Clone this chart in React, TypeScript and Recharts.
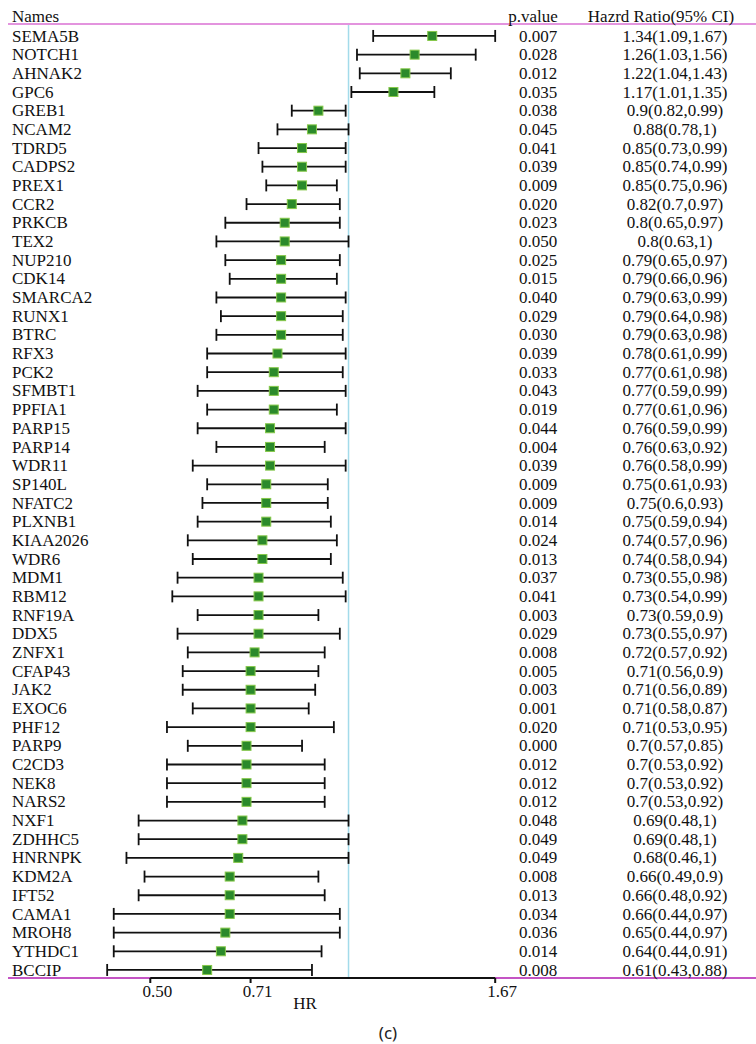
import React from "react";
import { ScatterChart, Scatter, XAxis, YAxis, ErrorBar, ReferenceLine } from "recharts";

const geneNames = [
  "SEMA5B", "NOTCH1", "AHNAK2", "GPC6", "GREB1", "NCAM2", "TDRD5", "CADPS2", "PREX1", "CCR2",
  "PRKCB", "TEX2", "NUP210", "CDK14", "SMARCA2", "RUNX1", "BTRC", "RFX3", "PCK2", "SFMBT1",
  "PPFIA1", "PARP15", "PARP14", "WDR11", "SP140L", "NFATC2", "PLXNB1", "KIAA2026", "WDR6", "MDM1",
  "RBM12", "RNF19A", "DDX5", "ZNFX1", "CFAP43", "JAK2", "EXOC6", "PHF12", "PARP9", "C2CD3",
  "NEK8", "NARS2", "NXF1", "ZDHHC5", "HNRNPK", "KDM2A", "IFT52", "CAMA1", "MROH8", "YTHDC1",
  "BCCIP",
];

const pValues = [
  "0.007", "0.028", "0.012", "0.035", "0.038", "0.045", "0.041", "0.039", "0.009", "0.020",
  "0.023", "0.050", "0.025", "0.015", "0.040", "0.029", "0.030", "0.039", "0.033", "0.043",
  "0.019", "0.044", "0.004", "0.039", "0.009", "0.009", "0.014", "0.024", "0.013", "0.037",
  "0.041", "0.003", "0.029", "0.008", "0.005", "0.003", "0.001", "0.020", "0.000", "0.012",
  "0.012", "0.012", "0.048", "0.049", "0.049", "0.008", "0.013", "0.034", "0.036", "0.014",
  "0.008",
];

const hazardRatios = [
  1.34, 1.26, 1.22, 1.17, 0.9, 0.88, 0.85, 0.85, 0.85, 0.82,
  0.8, 0.8, 0.79, 0.79, 0.79, 0.79, 0.79, 0.78, 0.77, 0.77,
  0.77, 0.76, 0.76, 0.76, 0.75, 0.75, 0.75, 0.74, 0.74, 0.73,
  0.73, 0.73, 0.73, 0.72, 0.71, 0.71, 0.71, 0.71, 0.7, 0.7,
  0.7, 0.7, 0.69, 0.69, 0.68, 0.66, 0.66, 0.66, 0.65, 0.64,
  0.61,
];

const lowerCI = [
  1.09, 1.03, 1.04, 1.01, 0.82, 0.78, 0.73, 0.74, 0.75, 0.7,
  0.65, 0.63, 0.65, 0.66, 0.63, 0.64, 0.63, 0.61, 0.61, 0.59,
  0.61, 0.59, 0.63, 0.58, 0.61, 0.6, 0.59, 0.57, 0.58, 0.55,
  0.54, 0.59, 0.55, 0.57, 0.56, 0.56, 0.58, 0.53, 0.57, 0.53,
  0.53, 0.53, 0.48, 0.48, 0.46, 0.49, 0.48, 0.44, 0.44, 0.44,
  0.43,
];

const upperCI = [
  1.67, 1.56, 1.43, 1.35, 0.99, 1, 0.99, 0.99, 0.96, 0.97,
  0.97, 1, 0.97, 0.96, 0.99, 0.98, 0.98, 0.99, 0.98, 0.99,
  0.96, 0.99, 0.92, 0.99, 0.93, 0.93, 0.94, 0.96, 0.94, 0.98,
  0.99, 0.9, 0.97, 0.92, 0.9, 0.89, 0.87, 0.95, 0.85, 0.92,
  0.92, 0.92, 1, 1, 1, 0.9, 0.92, 0.97, 0.97, 0.91,
  0.88,
];

const xTicks = [0.5, 0.71, 1.67];
const headerNames = "Names";
const headerP = "p.value";
const headerHR = "Hazrd Ratio(95% CI)";
const xLabel = "HR";
const panelLabel = "(c)";

const rows = geneNames.map((name, i) => ({
  idx: i,
  name,
  p: pValues[i],
  hr: hazardRatios[i],
  err: [hazardRatios[i] - lowerCI[i], upperCI[i] - hazardRatios[i]],
  text: `${hazardRatios[i]}(${lowerCI[i]},${upperCI[i]})`,
}));

const FONT = "'Liberation Serif', 'Times New Roman', serif";
const FS = 17;
const X_DOMAIN: [number, number] = [0.304, 4.157];
const Y_DOMAIN: [number, number] = [-0.64, 50.43];

const RowTick = (props: any) => {
  const { y, payload } = props;
  const row = rows[Math.round(Number(payload.value))];
  if (!row) return null;
  return (
    <g>
      <text x={12} y={y} dy={5.6} textAnchor="start" fontFamily={FONT} fontSize={FS} fill="#111">{row.name}</text>
      <text x={538} y={y} dy={5.6} textAnchor="middle" fontFamily={FONT} fontSize={FS} fill="#111">{row.p}</text>
      <text x={675} y={y} dy={5.6} textAnchor="middle" fontFamily={FONT} fontSize={FS} fill="#111">{row.text}</text>
    </g>
  );
};

const XTick = (props: any) => {
  const { x, y, payload } = props;
  return (
    <text x={x + 7} y={y} dy={12} textAnchor="middle" fontFamily={FONT} fontSize={FS} fill="#111">
      {Number(payload.value).toFixed(2)}
    </text>
  );
};

const HeaderLabel = (props: any) => {
  const vb = props.viewBox || {};
  const y = (vb.y ?? 24) - 2;
  return (
    <g>
      <text x={12} y={y} textAnchor="start" fontFamily={FONT} fontSize={FS} fill="#111">{headerNames}</text>
      <text x={533} y={y} textAnchor="middle" fontFamily={FONT} fontSize={FS} fill="#111">{headerP}</text>
      <text x={661} y={y} textAnchor="middle" fontFamily={FONT} fontSize={FS} fill="#111">{headerHR}</text>
    </g>
  );
};

const HrLabel = () => (
  <text x={305} y={1009} textAnchor="middle" fontFamily={FONT} fontSize={FS} fill="#111">
    {xLabel}
  </text>
);

const SquareShape = (props: any) => {
  const { cx, cy } = props;
  if (cx == null || cy == null) return null;
  return <rect x={cx - 4.5} y={cy - 4.5} width={9} height={9} fill="#2b8a2b" stroke="#86c84a" strokeWidth={1} />;
};

export default function App() {
  return (
    <div style={{ position: "absolute", left: 0, top: 0, width: 756, height: 1044, background: "#fff" }}>
      <ScatterChart width={756} height={1044} margin={{ top: 24, right: 0, bottom: 0, left: 7 }}>
        <XAxis
          dataKey="hr"
          type="number"
          scale="log"
          domain={X_DOMAIN}
          ticks={xTicks}
          interval={0}
          axisLine={false}
          tickSize={5}
          tickMargin={2}
          tickLine={{ stroke: "#111", strokeWidth: 2 }}
          tick={<XTick />}
          height={66}
          label={HrLabel}
          allowDataOverflow
        />
        <YAxis
          dataKey="idx"
          type="number"
          domain={Y_DOMAIN}
          reversed
          ticks={rows.map((r) => r.idx)}
          interval={0}
          width={1}
          axisLine={false}
          tickLine={false}
          tick={<RowTick />}
          allowDataOverflow
        />
        <ReferenceLine x={1} stroke="#a3dbea" strokeWidth={1.5} ifOverflow="visible" />
        <ReferenceLine y={Y_DOMAIN[0]} stroke="#e394de" strokeWidth={2} ifOverflow="visible" label={HeaderLabel} />
        <ReferenceLine y={Y_DOMAIN[1]} stroke="#c454c4" strokeWidth={2} ifOverflow="visible" />
        <ReferenceLine
          segment={[{ x: xTicks[0], y: Y_DOMAIN[1] }, { x: xTicks[xTicks.length - 1], y: Y_DOMAIN[1] }]}
          stroke="#111"
          strokeWidth={2}
          ifOverflow="visible"
        />
        <Scatter data={rows} shape={SquareShape} isAnimationActive={false}>
          <ErrorBar dataKey="err" direction="x" width={6} stroke="#111" strokeWidth={1.8} isAnimationActive={false} />
        </Scatter>
      </ScatterChart>
      <div
        style={{
          position: "absolute",
          top: 1022,
          left: 0,
          width: 776,
          textAlign: "center",
          fontFamily: "'Noto Sans', 'DejaVu Sans', sans-serif",
          fontSize: 17,
          lineHeight: "22px",
          color: "#222",
        }}
      >
        {panelLabel}
      </div>
    </div>
  );
}
